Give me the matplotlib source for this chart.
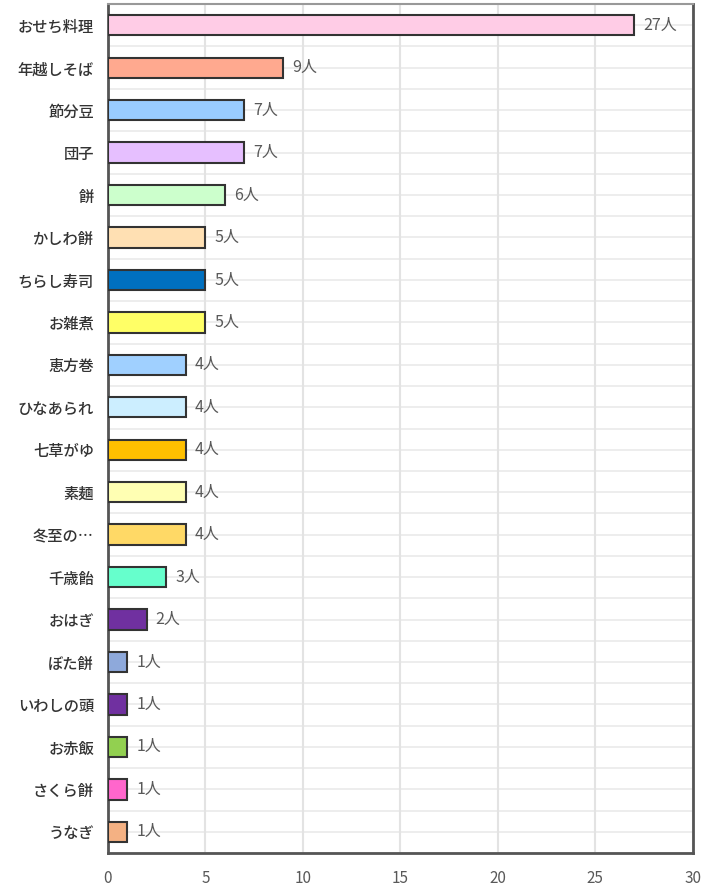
import matplotlib
matplotlib.use("Agg")
import matplotlib.pyplot as plt

plt.rcParams['font.family'] = ['Noto Sans CJK JP', 'DejaVu Sans']

foods = ["おせち料理", "年越しそば", "節分豆", "団子", "餅", "かしわ餅", "ちらし寿司",
         "お雑煮", "恵方巻", "ひなあられ", "七草がゆ", "素麺", "冬至の…", "千歳飴",
         "おはぎ", "ぼた餅", "いわしの頭", "お赤飯", "さくら餅", "うなぎ"]
counts = [27, 9, 7, 7, 6, 5, 5, 5, 4, 4, 4, 4, 4, 3, 2, 1, 1, 1, 1, 1]
colors = ["#FFCCE6", "#FFA98F", "#99CCFF", "#E6BFFF", "#CCFFCC", "#FFE0B3", "#0070C0",
          "#FFFF66", "#A0D0FF", "#CCEEFF", "#FFC000", "#FFFFB3", "#FFD966", "#66FFCC",
          "#7030A0", "#8EA9DB", "#7030A0", "#92D050", "#FF66CC", "#F4B183"]


def main():
    fig = plt.figure(figsize=(7.24, 8.92), dpi=100)
    ax = fig.add_axes([0.149, 0.0437, 0.808, 0.9518])

    y = list(range(len(foods)))
    ax.barh(y, counts, height=0.48, color=colors, edgecolor="#333333",
            linewidth=1.5, zorder=3)
    for yi, c in zip(y, counts):
        ax.text(c + 0.45, yi, f"{c}人", va="center", ha="left",
                fontsize=11.5, color="#595959", zorder=4)

    # light lines at every half category, behind the bars
    for i in range(2 * len(foods) + 1):
        ax.axhline(i * 0.5 - 0.5, color="#EAEAEA", linewidth=1.2, zorder=0)

    ax.set_xlim(0, 30)
    ax.set_ylim(len(foods) - 0.5, -0.5)
    ax.set_xticks(range(0, 31, 5))
    ax.set_yticks(y)
    ax.set_yticklabels(foods, fontsize=11, color="#333333", fontweight="medium")
    ax.tick_params(axis="y", length=0, pad=10)
    ax.tick_params(axis="x", length=0, pad=12, labelsize=11, labelcolor="#595959")

    ax.grid(axis="x", color="#E3E3E3", linewidth=1.5, zorder=0)

    for side in ["left", "bottom", "right"]:
        ax.spines[side].set_color("#555555")
        ax.spines[side].set_linewidth(2)
    ax.spines["top"].set_color("#999999")
    ax.spines["top"].set_linewidth(1.5)

    fig.savefig("out.png")


if __name__ == '__main__':
    main()
